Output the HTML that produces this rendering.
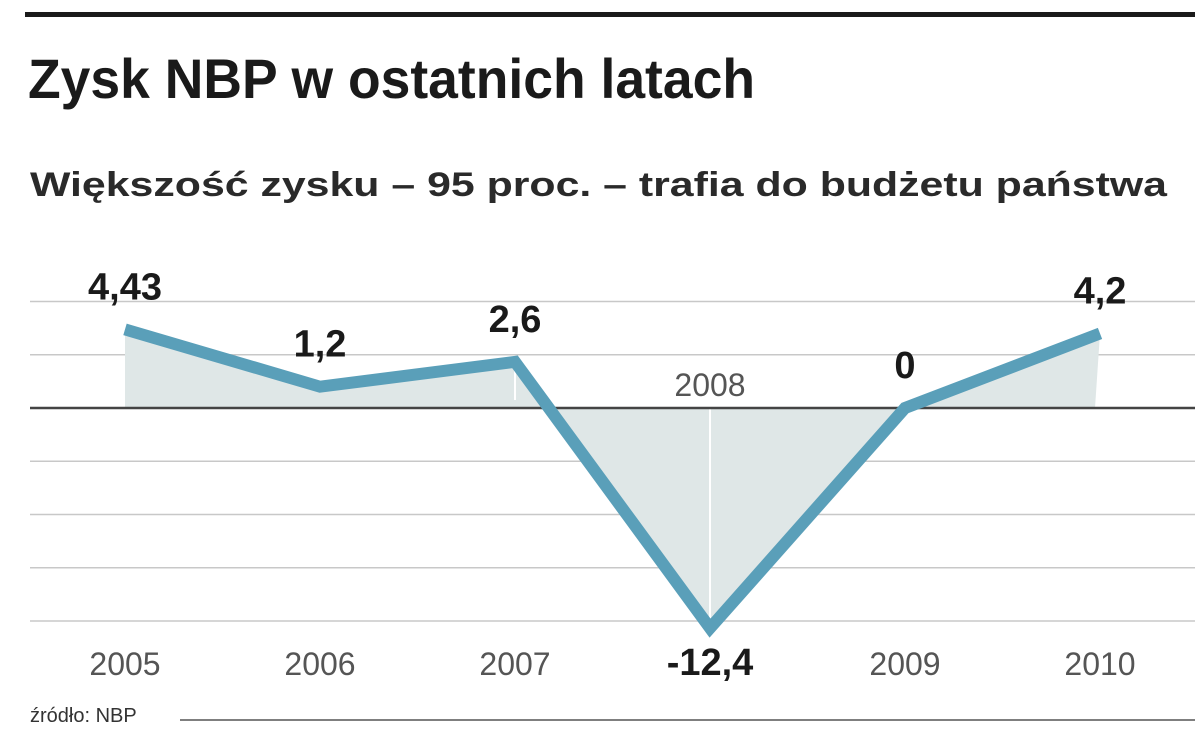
<!DOCTYPE html>
<html><head><meta charset="utf-8"><style>
html,body{margin:0;padding:0;background:#fff;}
svg{display:block;font-family:"Liberation Sans",sans-serif;}
</style></head><body>
<svg id="chart" width="1200" height="746" viewBox="0 0 1200 746">
<rect x="25" y="12" width="1170" height="5" fill="#1a1a1a"/>
<text x="28" y="98" font-size="56" font-weight="bold" fill="#1a1a1a" textLength="727" lengthAdjust="spacingAndGlyphs">Zysk NBP w ostatnich latach</text>
<text x="30" y="196" font-size="34" font-weight="bold" fill="#2a2a2a" textLength="1137" lengthAdjust="spacingAndGlyphs">Większość zysku – 95 proc. – trafia do budżetu państwa</text>
<g id="grid"></g>
<g id="plot"></g>
<text x="30" y="722" font-size="20" fill="#333">źródło: NBP</text>
<line x1="180" y1="720" x2="1195" y2="720" stroke="#555" stroke-width="1.5"/>
</svg>
<script>
const years = ["2005","2006","2007","2008","2009","2010"];
const values = [4.43, 1.2, 2.6, -12.4, 0, 4.2];
const valueLabels = ["4,43","1,2","2,6","-12,4","0","4,2"];
const gridTicks = [6, 3, 0, -3, -6, -9, -12];

const NS = "http://www.w3.org/2000/svg";
const x0 = 125, dx = 195;
const zeroY = 408, pxPerUnit = 17.75;
const xs = i => x0 + i * dx;
const ys = v => zeroY - v * pxPerUnit;
function mk(tag, attrs, parent) {
  const e = document.createElementNS(NS, tag);
  for (const k in attrs) e.setAttribute(k, attrs[k]);
  parent.appendChild(e);
  return e;
}
const grid = document.getElementById('grid');
const plot = document.getElementById('plot');

gridTicks.forEach(t => {
  if (t === 0) return;
  const l = mk('line', {x1: 30, x2: 1195, y1: ys(t), y2: ys(t), stroke: '#c8c8c8', 'stroke-width': 1.5}, grid);
  
  
});

// area fill
let d = `M${xs(0)},${zeroY}`;
values.forEach((v, i) => { d += ` L${xs(i)},${ys(v)}`; });
d += ` L${xs(values.length - 1) - 5},${zeroY} Z`;
const area = mk('path', {d: d, fill: '#dfe7e7'}, plot);



// white dividers
[2, 3].forEach(i => {
  const l = mk('line', {x1: xs(i), x2: xs(i), y1: ys(Math.max(values[i], 0)), y2: ys(Math.min(values[i], 0)) - 8, stroke: '#fff', 'stroke-width': 2}, plot);
  
  
});

const zl = mk('line', {x1: 30, x2: 1195, y1: zeroY, y2: zeroY, stroke: '#444', 'stroke-width': 2.5}, plot);



const pts = values.map((v, i) => `${xs(i)},${ys(v)}`).join(' ');
const line = mk('polyline', {points: pts, fill: 'none', stroke: '#5a9fb9', 'stroke-width': 12, 'stroke-linejoin': 'miter', 'stroke-miterlimit': 10}, plot);



values.forEach((v, i) => {
  const neg = v < 0;
  // year label
  const yl = mk('text', {x: xs(i), y: neg ? zeroY - 12 : 675, 'font-size': 32, fill: '#555', 'text-anchor': 'middle'}, plot);
  yl.textContent = years[i];
  
  
  // value label
  const vl = mk('text', {x: xs(i), y: neg ? 675 : ys(v) - 30, 'font-size': 38, 'font-weight': 'bold', fill: '#1a1a1a', 'text-anchor': 'middle'}, plot);
  vl.textContent = valueLabels[i];
  
  
});
</script>
</body></html>
